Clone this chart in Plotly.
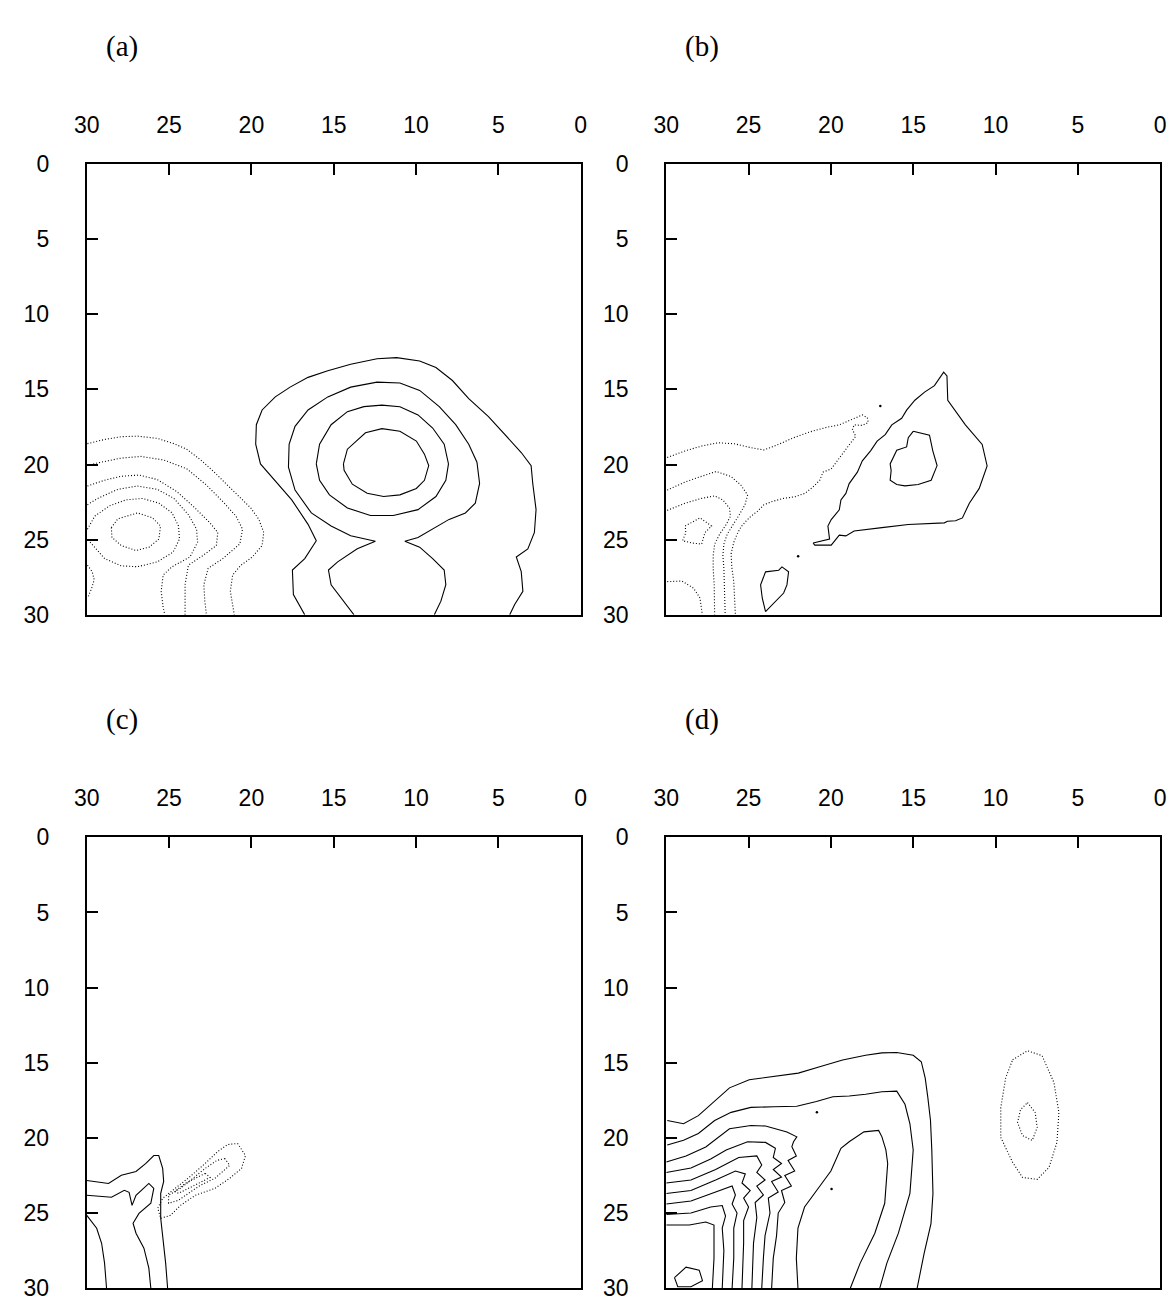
import plotly.graph_objects as go

# ---------------- tick labels ----------------
TICK_VALUES = [30, 25, 20, 15, 10, 5, 0]
TICK_TEXT = ["30", "25", "20", "15", "10", "5", "0"]
PANEL_LABELS = ["(a)", "(b)", "(c)", "(d)"]

# ---------------- panel (a) contours (x, y) ----------------
a_solid_1 = [(14.41,19.96),(14.17,18.98),(13.07,17.89),(12.07,17.61),(10.98,17.78),(9.98,18.44),(9.49,19.31),
             (9.23,20.07),(9.49,21.05),(9.98,21.59),(10.98,22.02),(11.97,22.13),(12.97,21.91),(13.87,21.31),
             (14.37,20.39),(14.41,19.96)]
a_solid_2 = [(16.06,19.96),(15.86,18.65),(15.16,17.35),(14.17,16.48),(13.17,16.15),(12.07,16.05),(10.98,16.15),
             (9.88,16.70),(8.99,17.57),(8.29,18.65),(8.03,19.96),(8.19,21.05),(8.79,22.13),(9.88,23.00),
             (11.38,23.39),(12.77,23.39),(14.17,22.89),(15.26,22.02),(15.86,21.05),(16.06,19.96)]
a_solid_3 = [(13.77,30.0),(14.56,28.87),(15.16,28.0),(15.32,27.02),(14.76,26.48),(13.57,25.61),(12.47,25.11),
             (13.97,24.74),(15.16,24.09),(16.36,23.22),(17.35,21.70),(17.75,20.18),(17.71,18.65),(17.35,17.46),
             (16.56,16.37),(15.36,15.50),(13.97,14.85),(12.37,14.52),(10.98,14.57),(9.78,15.07),(8.59,16.15),
             (7.59,17.35),(6.80,18.65),(6.30,19.85),(6.14,21.26),(6.40,22.57),(7.00,23.22),(7.99,23.65),
             (8.99,24.26),(9.88,24.85),(10.68,25.11),(9.78,25.50),(8.99,26.26),(8.29,27.02),(8.19,28.0),
             (8.49,29.09),(8.89,30.0)]
a_solid_4 = [(16.76,30.0),(17.45,28.65),(17.51,27.02),(16.76,26.26),(16.06,25.07),(16.56,23.98),(17.55,22.35),
             (18.75,20.83),(19.45,19.96),(19.74,18.65),(19.70,17.35),(19.35,16.37),(18.55,15.50),(17.65,14.85),
             (16.56,14.20),(15.36,13.76),(13.97,13.33),(12.37,12.96),(11.18,12.89),(9.78,13.11),(8.79,13.55),
             (7.79,14.41),(6.80,15.61),(5.60,16.81),(4.41,18.22),(3.61,19.20),(3.01,20.07),(2.91,21.26),
             (2.71,23.0),(2.81,24.52),(3.21,25.61),(3.91,26.15),(3.61,27.13),(3.51,28.44),(4.01,29.31),(4.31,30.0)]
a_dot_1 = [(28.51,24.20),(28.11,23.61),(26.92,23.22),(26.02,23.54),(25.52,24.09),(25.62,24.96),(26.22,25.50),
           (27.02,25.72),(27.91,25.39),(28.47,24.85),(28.51,24.20)]
a_dot_2 = [(29.96,24.30),(29.51,23.43),(28.61,22.74),(27.61,22.35),(26.62,22.26),(25.62,22.57),(24.82,23.22),
           (24.43,24.09),(24.37,24.96),(24.76,25.83),(25.72,26.48),(26.92,26.80),(27.91,26.74),(28.91,26.26),
           (29.61,25.39),(29.96,24.96)]
a_dot_3 = [(29.96,22.67),(29.31,22.24),(28.11,21.65),(26.92,21.43),(25.72,21.65),(24.72,22.24),(23.83,23.33),
           (23.33,24.30),(23.27,25.17),(23.73,26.15),(24.82,26.80),(25.36,27.35),(25.48,28.43),(25.36,29.52),(25.26,30.0)]
a_dot_4 = [(29.96,21.43),(28.91,21.04),(27.91,20.78),(26.82,20.70),(25.72,21.0),(24.53,21.80),(23.43,22.89),
           (22.53,23.87),(22.04,24.52),(22.13,25.39),(22.93,26.04),(23.83,26.70),(24.03,28.0),(24.03,29.09),(24.03,30.0)]
a_dot_5 = [(29.96,20.07),(29.41,19.91),(27.91,19.57),(26.72,19.46),(25.32,19.70),(23.93,20.28),(22.73,21.37),
           (21.74,22.46),(20.94,23.43),(20.54,24.30),(20.70,25.28),(21.74,26.26),(22.63,26.91),(22.89,28.0),
           (22.83,29.09),(22.73,30.0)]
a_dot_6 = [(29.96,18.61),(28.91,18.33),(27.91,18.15),(26.92,18.11),(25.72,18.26),(24.72,18.61),(23.93,18.98),
           (23.03,19.74),(22.33,20.43),(21.54,21.26),(20.74,22.13),(20.04,22.89),(19.55,23.65),(19.25,24.52),
           (19.35,25.39),(19.94,26.15),(20.64,26.70),(21.14,27.35),(21.28,28.43),(21.14,29.30),(21.04,30.0)]
a_dot_7 = [(29.96,26.70),(29.67,27.13),(29.55,27.67),(29.70,28.22),(29.90,28.76)]

# ---------------- panel (b) contours ----------------
b_solid_1 = [(21.08,25.22),(20.08,24.96),(20.18,24.09),(19.98,23.66),(19.49,23.01),(19.39,22.36),(19.09,21.92),
             (18.89,21.27),(18.39,20.51),(18.09,19.75),(17.59,19.09),(17.19,18.44),(16.70,18.01),(16.30,17.36),
             (15.70,16.92),(15.40,16.38),(14.90,15.72),(14.31,15.18),(13.71,14.75),(13.35,14.20),(13.15,13.85),
             (12.95,14.10),(12.90,15.72),(11.83,17.36),(10.81,18.66),(10.51,20.09),(10.99,21.59),(11.59,22.57),
             (12.01,23.55),(12.43,23.74),(12.91,23.77),(13.11,23.88),(15.30,23.99),(16.90,24.20),(18.09,24.38),
             (18.59,24.42),(19.09,24.75),(19.49,24.70),(19.98,25.36),(20.98,25.36),(21.08,25.22)]
b_solid_2 = [(15.00,17.79),(14.01,18.05),(13.81,19.09),(13.55,20.07),(13.91,21.05),(14.70,21.33),(15.50,21.42),
             (16.00,21.33),(16.40,21.05),(16.34,20.40),(16.40,19.96),(16.10,19.31),(16.00,19.05),(15.40,18.83),
             (15.30,18.22),(15.00,17.79)]
b_solid_3 = [(23.97,29.79),(24.17,28.88),(24.27,28.01),(23.97,27.14),(23.17,27.03),(22.97,26.81),(22.57,27.14),
             (22.67,28.01),(22.87,28.55),(23.27,28.99),(23.97,29.79)]
b_dot_1 = [(29.94,19.53),(28.85,19.09),(27.85,18.77),(26.86,18.55),(25.86,18.62),(24.86,18.88),(24.07,19.03),
           (23.27,18.70),(22.27,18.22),(21.28,17.83),(20.28,17.53),(19.49,17.36),(18.79,17.03),(18.09,16.70),
           (17.79,16.88),(17.73,17.20),(18.09,17.40),(18.59,17.36),(18.69,17.68),(18.49,18.12),(18.79,18.55),
           (19.09,18.99),(19.39,19.42),(19.78,19.96),(19.98,20.29),(20.48,20.51),(20.68,21.05),(21.08,21.49),
           (21.58,21.92),(22.17,22.14),(22.87,22.25),(23.57,22.46),(24.07,22.68),(24.47,23.12),(24.86,23.44),
           (25.16,23.77),(25.46,24.14),(25.70,24.64),(25.90,25.18),(26.06,25.94),(26.02,26.81),(25.90,27.79),
           (25.86,28.66),(25.80,30.0)]
b_dot_2 = [(29.94,21.70),(28.85,21.16),(27.85,20.78),(26.96,20.46),(26.06,20.80),(25.46,21.38),(25.06,22.03),
           (25.22,22.68),(25.56,23.33),(25.96,23.99),(26.30,24.64),(26.50,25.29),(26.56,26.05),(26.50,26.92),
           (26.46,28.0),(26.42,30.0)]
b_dot_3 = [(29.94,23.05),(28.85,22.57),(27.85,22.25),(27.06,22.09),(26.56,22.36),(26.16,22.90),(26.10,23.44),
           (26.36,23.99),(26.76,24.64),(27.06,25.29),(27.15,26.05),(27.15,26.92),(27.09,28.01),(27.06,30.0)]
b_dot_4 = [(28.85,24.09),(27.95,23.55),(27.25,24.09),(27.65,24.53),(27.85,25.29),(28.45,25.22),(29.01,25.07),
           (28.81,24.53),(28.85,24.09)]
b_dot_5 = [(29.94,27.79),(29.05,27.75),(28.35,28.22),(27.95,28.88),(27.81,30.0)]
b_marks = [(21.99,26.10),(17.00,16.10)]

# ---------------- panel (c) contours ----------------
c_solid_1 = [(30.0,22.83),(28.68,23.03),(27.90,22.49),(27.01,22.23),(26.41,21.70),(25.93,21.17),(25.63,21.17),
             (25.39,22.03),(25.33,22.89),(25.51,23.69),(25.51,25.35),(25.33,27.01),(25.21,28.33),(25.09,30.0)]
c_solid_2 = [(30.0,23.82),(28.50,23.95),(27.72,23.49),(27.43,23.62),(27.25,24.49),(27.01,23.82),(26.23,23.03),
             (25.93,23.36),(26.11,24.35),(26.83,25.02),(27.19,25.68),(27.01,26.34),(26.53,27.34),(26.23,28.67),(26.11,30.0)]
c_solid_3 = [(30.0,25.15),(29.40,26.01),(29.10,27.01),(28.92,28.33),(28.80,30.0)]
c_dot_1 = [(20.84,20.37),(20.36,21.17),(20.60,22.03),(21.32,22.69),(22.22,23.36),(23.41,23.82),(24.31,24.49),
           (24.91,25.15),(25.51,25.35),(25.69,24.68),(25.39,24.02),(24.61,23.36),(23.71,22.56),(22.81,21.70),
           (22.04,20.90),(21.44,20.44),(20.84,20.37)]
c_dot_2 = [(21.62,21.37),(21.32,21.83),(22.22,22.69),(23.11,23.16),(23.83,23.69),(24.43,24.15),(25.03,24.35),
           (25.03,23.82),(24.31,23.36),(23.59,22.69),(22.81,22.03),(22.10,21.50),(21.62,21.37)]
c_dot_3 = [(22.81,22.36),(22.51,22.63),(23.23,23.03),(23.83,23.36),(24.43,23.69),(24.67,23.56),(24.01,23.03),
           (23.41,22.69),(22.81,22.36)]

# ---------------- panel (d) contours ----------------
d_solid_1 = [(29.94,18.84),(28.95,19.06),(28.05,18.52),(27.15,17.65),(26.16,16.67),(24.96,16.13),(23.47,15.91),
             (21.98,15.69),(20.68,15.26),(19.29,14.82),(17.89,14.50),(16.90,14.34),(16.00,14.32),(15.00,14.50),
             (14.51,14.93),(14.27,16.02),(14.11,17.32),(13.95,18.84),(13.87,20.80),(13.80,23.70),(13.92,25.70),
             (14.34,27.70),(14.76,30.0)]
d_solid_2 = [(29.94,20.47),(28.95,20.15),(28.05,19.71),(27.06,18.84),(26.06,18.30),(24.86,17.97),(23.47,17.93),
             (22.07,17.89),(20.88,17.58),(19.88,17.26),(18.89,17.21),(17.89,17.10),(16.90,16.93),(16.00,16.89),
             (15.50,17.76),(15.20,19.06),(15.00,20.80),(15.20,23.69),(15.90,26.34),(16.60,28.33),(17.03,30.0)]
d_solid_3 = [(30.0,21.60),(28.80,21.20),(27.60,20.60),(26.16,19.39),(24.86,19.17),(23.97,19.21),(22.67,19.60),
             (22.07,19.93),(22.27,20.26),(22.37,20.58),(22.10,21.20),(22.60,21.50),(22.20,22.20),(22.80,22.50),
             (22.40,23.20),(23.00,23.50),(22.80,24.30),(23.20,25.00),(23.30,26.50),(23.50,28.00),(23.60,30.0)]
d_solid_4 = [(30.0,22.30),(28.50,22.00),(27.30,21.40),(26.36,20.80),(25.06,20.26),(23.97,20.30),(23.37,20.69),
             (23.50,21.30),(23.00,21.70),(23.50,22.10),(23.00,22.60),(23.60,22.90),(23.20,23.60),(23.80,24.00),
             (23.70,25.00),(24.00,26.50),(24.10,28.00),(24.20,30.0)]
d_solid_5 = [(30.0,23.00),(28.50,22.80),(27.00,22.10),(25.60,21.30),(24.50,21.20),(24.20,21.80),(24.50,22.30),
             (24.00,22.80),(24.50,23.20),(24.10,23.80),(24.60,24.30),(24.50,25.30),(24.70,27.00),(24.80,30.0)]
d_solid_6 = [(30.0,23.70),(28.50,23.50),(27.00,22.80),(25.80,22.20),(25.20,22.40),(25.40,23.00),(24.90,23.50),
             (25.30,24.00),(25.00,24.60),(25.30,25.50),(25.30,27.00),(25.40,30.0)]
d_solid_7 = [(30.0,24.40),(28.50,24.20),(27.00,23.60),(26.00,23.20),(25.80,23.80),(26.00,24.40),(25.70,25.00),
             (25.90,26.00),(25.90,28.00),(26.00,30.0)]
d_solid_8 = [(30.0,25.10),(28.50,25.00),(27.30,24.60),(26.60,24.50),(26.40,25.20),(26.60,26.00),(26.50,27.50),(26.60,30.0)]
d_solid_9 = [(30.0,25.80),(28.60,25.80),(27.60,25.60),(27.10,25.80),(27.10,26.80),(27.10,28.00),(27.20,30.0)]
d_solid_10 = [(29.50,29.30),(28.80,28.60),(28.00,28.80),(27.80,29.50),(28.50,29.90),(29.30,29.90),(29.50,29.30)]
d_solid_11 = [(22.00,30.0),(22.10,28.00),(22.00,26.00),(21.60,24.60),(20.80,23.40),(20.00,22.20),(19.39,20.69),
              (18.89,20.26),(17.99,19.60),(17.10,19.50),(16.90,19.93),(16.66,20.80),(16.55,21.70),(16.73,24.35),
              (17.33,26.34),(18.22,28.33),(18.82,30.0)]
d_dot_1 = [(8.96,14.80),(8.06,14.20),(7.17,14.53),(6.45,16.32),(6.15,18.31),(6.27,20.30),(6.75,21.96),(7.47,22.76),
           (8.36,22.63),(8.96,21.63),(9.68,19.97),(9.68,17.98),(9.38,15.99),(8.96,14.80)]
d_dot_2 = [(8.06,17.65),(7.59,18.31),(7.47,19.31),(7.77,20.17),(8.36,19.84),(8.66,18.98),(8.48,18.12),(8.06,17.65)]
d_marks = [(20.85,18.30),(19.96,23.40)]

# ---------------- assemble ----------------
PANELS = {
    1: dict(solid=[a_solid_1, a_solid_2, a_solid_3, a_solid_4],
            dotted=[a_dot_1, a_dot_2, a_dot_3, a_dot_4, a_dot_5, a_dot_6, a_dot_7], marks=[]),
    2: dict(solid=[b_solid_1, b_solid_2, b_solid_3],
            dotted=[b_dot_1, b_dot_2, b_dot_3, b_dot_4, b_dot_5], marks=b_marks),
    3: dict(solid=[c_solid_1, c_solid_2, c_solid_3], dotted=[c_dot_1, c_dot_2, c_dot_3], marks=[]),
    4: dict(solid=[d_solid_1, d_solid_2, d_solid_3, d_solid_4, d_solid_5, d_solid_6, d_solid_7, d_solid_8,
                   d_solid_9, d_solid_10, d_solid_11],
            dotted=[d_dot_1, d_dot_2], marks=d_marks),
}

W, H = 1175, 1311
# pixel frames of the four panels: (left, right), (top, bottom)
FRAMES = {1: ((75, 577), (154, 614)), 2: ((664, 1166), (154, 614)),
          3: ((75, 577), (841, 1301)), 4: ((664, 1166), (841, 1301))}

fig = go.Figure()
for i, spec in PANELS.items():
    xa = "x" if i == 1 else f"x{i}"
    ya = "y" if i == 1 else f"y{i}"
    for pts in spec["solid"]:
        fig.add_trace(go.Scatter(x=[p[0] for p in pts], y=[p[1] for p in pts], mode="lines",
                                 xaxis=xa, yaxis=ya, hoverinfo="skip", showlegend=False,
                                 line=dict(color="black", width=1.1)))
    for pts in spec["dotted"]:
        fig.add_trace(go.Scatter(x=[p[0] for p in pts], y=[p[1] for p in pts], mode="lines",
                                 xaxis=xa, yaxis=ya, hoverinfo="skip", showlegend=False,
                                 line=dict(color="black", width=1.1, dash="1px,2px")))
    if spec["marks"]:
        fig.add_trace(go.Scatter(x=[p[0] for p in spec["marks"]], y=[p[1] for p in spec["marks"]],
                                 mode="markers", xaxis=xa, yaxis=ya, hoverinfo="skip", showlegend=False,
                                 marker=dict(color="black", size=2.5)))

tickfont = dict(family="Liberation Sans, Arial, sans-serif", size=23, color="black")
common = dict(range=[30, 0], tickmode="array", tickvals=TICK_VALUES, ticktext=TICK_TEXT,
              ticks="inside", ticklen=11, tickwidth=1.5, tickcolor="black",
              showline=True, linecolor="black", linewidth=2, mirror=True,
              showgrid=False, zeroline=False, tickfont=tickfont, fixedrange=True)
layout = dict(width=W, height=H, margin=dict(l=0, r=0, t=0, b=0),
              paper_bgcolor="white", plot_bgcolor="white", showlegend=False)
annotations = []
for i, ((x0, x1), (y0, y1)) in FRAMES.items():
    xk = "xaxis" if i == 1 else f"xaxis{i}"
    yk = "yaxis" if i == 1 else f"yaxis{i}"
    layout[xk] = dict(common, domain=[x0 / W, x1 / W], side="top",
                      anchor="y" if i == 1 else f"y{i}", ticklabelstandoff=20)
    layout[yk] = dict(common, domain=[1 - y1 / H, 1 - y0 / H],
                      anchor="x" if i == 1 else f"x{i}", ticklabelstandoff=31)
    annotations.append(dict(text=PANEL_LABELS[i - 1], xref="paper", yref="paper",
                            x=(x0 + 17) / W, y=1 - (y0 - 120) / H, xanchor="left", yanchor="middle",
                            showarrow=False,
                            font=dict(family="Liberation Serif, Times New Roman, serif", size=29, color="black")))
layout["annotations"] = annotations
fig.update_layout(**layout)
fig.write_html("out.html")
